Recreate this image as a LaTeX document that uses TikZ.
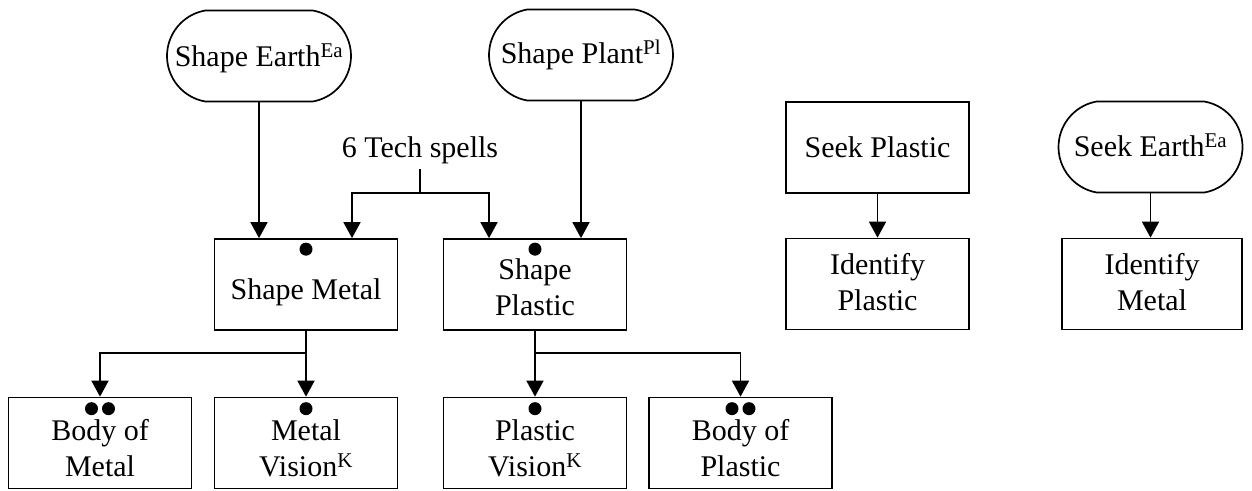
\documentclass[tikz,border=0pt]{standalone}
\usepackage{fontspec}
\setmainfont{Liberation Serif}
\usetikzlibrary{arrows.meta,shapes.misc,calc}
\newcommand\boxtext[2]{\raisebox{-#1}[\height][\depth]{\begin{tabular}{@{}c@{}}#2\end{tabular}}}
\begin{document}
\begin{tikzpicture}[x=1pt,y=-1pt,
  every node/.style={font=\fontsize{30}{36}\selectfont},
  box/.style={draw,line width=1.7pt,rectangle,minimum width=183pt,minimum height=91pt,inner sep=0pt},
  term/.style={draw,line width=1.7pt,rounded rectangle,rounded rectangle arc length=160,minimum width=184pt,minimum height=91pt,inner sep=0pt},
  conn/.style={line width=1.7pt},
  arr/.style={line width=1.7pt,-{Triangle[width=17pt,length=16pt]}},
  dot/.style={fill=black}]
\useasboundingbox (0,0) rectangle (1252,490);
% top row
\node[term] (earth) at (259,56) {\boxtext{3pt}{Shape Earth\textsuperscript{Ea}}};
\node[term] (plant) at (581,55) {\boxtext{1pt}{Shape Plant\textsuperscript{Pl}}};
\node[inner sep=5.5pt] (tech) at (420,150) {6 Tech spells};
\node[box] (seekp) at (877.5,147.5) {\boxtext{2.8pt}{Seek Plastic}};
\node[term] (seeke) at (1150.5,147) {\boxtext{2pt}{Seek Earth\textsuperscript{Ea}}};
% middle row
\node[box] (smetal) at (306,284.5) {\boxtext{7.3pt}{Shape Metal}};
\node[box] (splastic) at (535,284.5) {\boxtext{5.3pt}{Shape\\Plastic}};
\node[box] (identp) at (877.5,284) {\boxtext{1.5pt}{Identify\\Plastic}};
\node[box,minimum width=180pt] (identm) at (1152,284) {\boxtext{1.5pt}{Identify\\Metal}};
% bottom row
\node[box] (bodym) at (100,443) {\boxtext{8.6pt}{Body of\\Metal}};
\node[box] (visionm) at (306,443) {\boxtext{8.6pt}{Metal\\Vision\textsuperscript{K}}};
\node[box] (visionp) at (535,443) {\boxtext{8.6pt}{Plastic\\Vision\textsuperscript{K}}};
\node[box] (bodyp) at (740.5,443) {\boxtext{8.6pt}{Body of\\Plastic}};
% dots
\fill[dot] ($(smetal.north)+(0,11)$) circle[radius=6.5pt];
\fill[dot] ($(splastic.north)+(0,11)$) circle[radius=6.5pt];
\fill[dot] ($(visionm.north)+(0,12)$) circle[radius=6.5pt];
\fill[dot] ($(visionp.north)+(0,12)$) circle[radius=6.5pt];
\fill[dot] ($(bodym.north)+(-8.5,12)$) circle[radius=6.5pt];
\fill[dot] ($(bodym.north)+(8.5,12)$) circle[radius=6.5pt];
\fill[dot] ($(bodyp.north)+(-8.5,12)$) circle[radius=6.5pt];
\fill[dot] ($(bodyp.north)+(8.5,12)$) circle[radius=6.5pt];
% connectors
\draw[arr] (earth.south) -- (earth.south |- smetal.north);
\draw[arr] (plant.south) -- (plant.south |- splastic.north);
\coordinate (tj) at (420,193);
\draw[conn] (tech.south) -- (tj);
\draw[arr] (tj) -| ($(smetal.north)+(46,0)$);
\draw[arr] (tj) -| ($(splastic.north)+(-46,0)$);
\coordinate (mj) at (306,353);
\draw[conn] (smetal.south) -- (mj);
\draw[arr] (mj) -| (bodym.north);
\draw[arr] (mj) -- (visionm.north);
\coordinate (pj) at (535,353);
\draw[conn] (splastic.south) -- (pj);
\draw[arr] (pj) -- (visionp.north);
\draw[arr] (pj) -| (bodyp.north);
\draw[arr] (seekp.south) -- (identp.north);
\draw[arr] (seeke.south) -- (seeke.south |- identm.north);
\end{tikzpicture}
\end{document}
